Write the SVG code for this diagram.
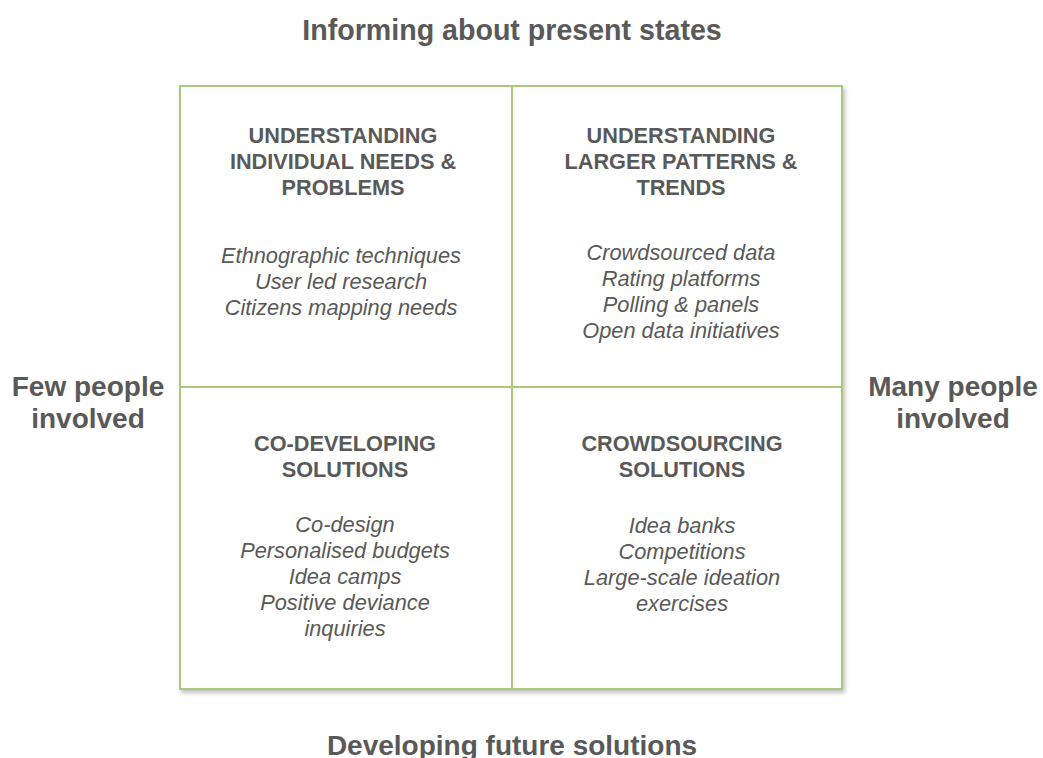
<svg xmlns="http://www.w3.org/2000/svg" width="1043" height="758" viewBox="0 0 1043 758">
<defs>
<filter id="sh" x="-5%" y="-5%" width="110%" height="110%">
<feGaussianBlur in="SourceAlpha" stdDeviation="2"/>
<feOffset dx="2" dy="3"/>
<feComponentTransfer><feFuncA type="linear" slope="0.25"/></feComponentTransfer>
<feMerge><feMergeNode/><feMergeNode in="SourceGraphic"/></feMerge>
</filter>
</defs>
<style>
text{font-family:"Liberation Sans",Arial,sans-serif;fill:#595959;text-anchor:middle}
.axis{font-size:28px;font-weight:bold}
.title{font-size:28.6px}
.head{font-size:21.7px;font-weight:bold}
.item{font-size:21.8px;font-style:italic}
.cell{fill:#fff;stroke:#A9C97E;stroke-width:2}
</style>
<rect width="1043" height="758" fill="#fff"/>
<g id="axes">
<text class="axis title" x="512" y="40">Informing about present states</text>
<text class="axis" x="512" y="755">Developing future solutions</text>
<text class="axis" x="88" y="396">Few people</text>
<text class="axis" x="88" y="428">involved</text>
<text class="axis" x="953" y="396">Many people</text>
<text class="axis" x="953" y="428">involved</text>
</g>
<g id="frame" filter="url(#sh)">
<rect class="cell" x="180" y="86" width="662" height="603"/>
</g>
<g id="connectors">
<line x1="512" y1="86" x2="512" y2="689" stroke="#A9C97E" stroke-width="2"/>
<line x1="180" y1="387" x2="842" y2="387" stroke="#A9C97E" stroke-width="2"/>
</g>
<g id="q-top-left">
<text class="head" x="343" y="143">UNDERSTANDING</text>
<text class="head" x="343" y="169">INDIVIDUAL NEEDS &amp;</text>
<text class="head" x="343" y="195">PROBLEMS</text>
<text class="item" x="341" y="263">Ethnographic techniques</text>
<text class="item" x="341" y="289">User led research</text>
<text class="item" x="341" y="315">Citizens mapping needs</text>
</g>
<g id="q-top-right">
<text class="head" x="681" y="143">UNDERSTANDING</text>
<text class="head" x="681" y="169">LARGER PATTERNS &amp;</text>
<text class="head" x="681" y="195">TRENDS</text>
<text class="item" x="681" y="260">Crowdsourced data</text>
<text class="item" x="681" y="286">Rating platforms</text>
<text class="item" x="681" y="312">Polling &amp; panels</text>
<text class="item" x="681" y="338">Open data initiatives</text>
</g>
<g id="q-bottom-left">
<text class="head" x="345" y="451">CO-DEVELOPING</text>
<text class="head" x="345" y="477">SOLUTIONS</text>
<text class="item" x="345" y="532">Co-design</text>
<text class="item" x="345" y="558">Personalised budgets</text>
<text class="item" x="345" y="584">Idea camps</text>
<text class="item" x="345" y="610">Positive deviance</text>
<text class="item" x="345" y="636">inquiries</text>
</g>
<g id="q-bottom-right">
<text class="head" x="682" y="451">CROWDSOURCING</text>
<text class="head" x="682" y="477">SOLUTIONS</text>
<text class="item" x="682" y="533">Idea banks</text>
<text class="item" x="682" y="559">Competitions</text>
<text class="item" x="682" y="585">Large-scale ideation</text>
<text class="item" x="682" y="611">exercises</text>
</g>
</svg>
